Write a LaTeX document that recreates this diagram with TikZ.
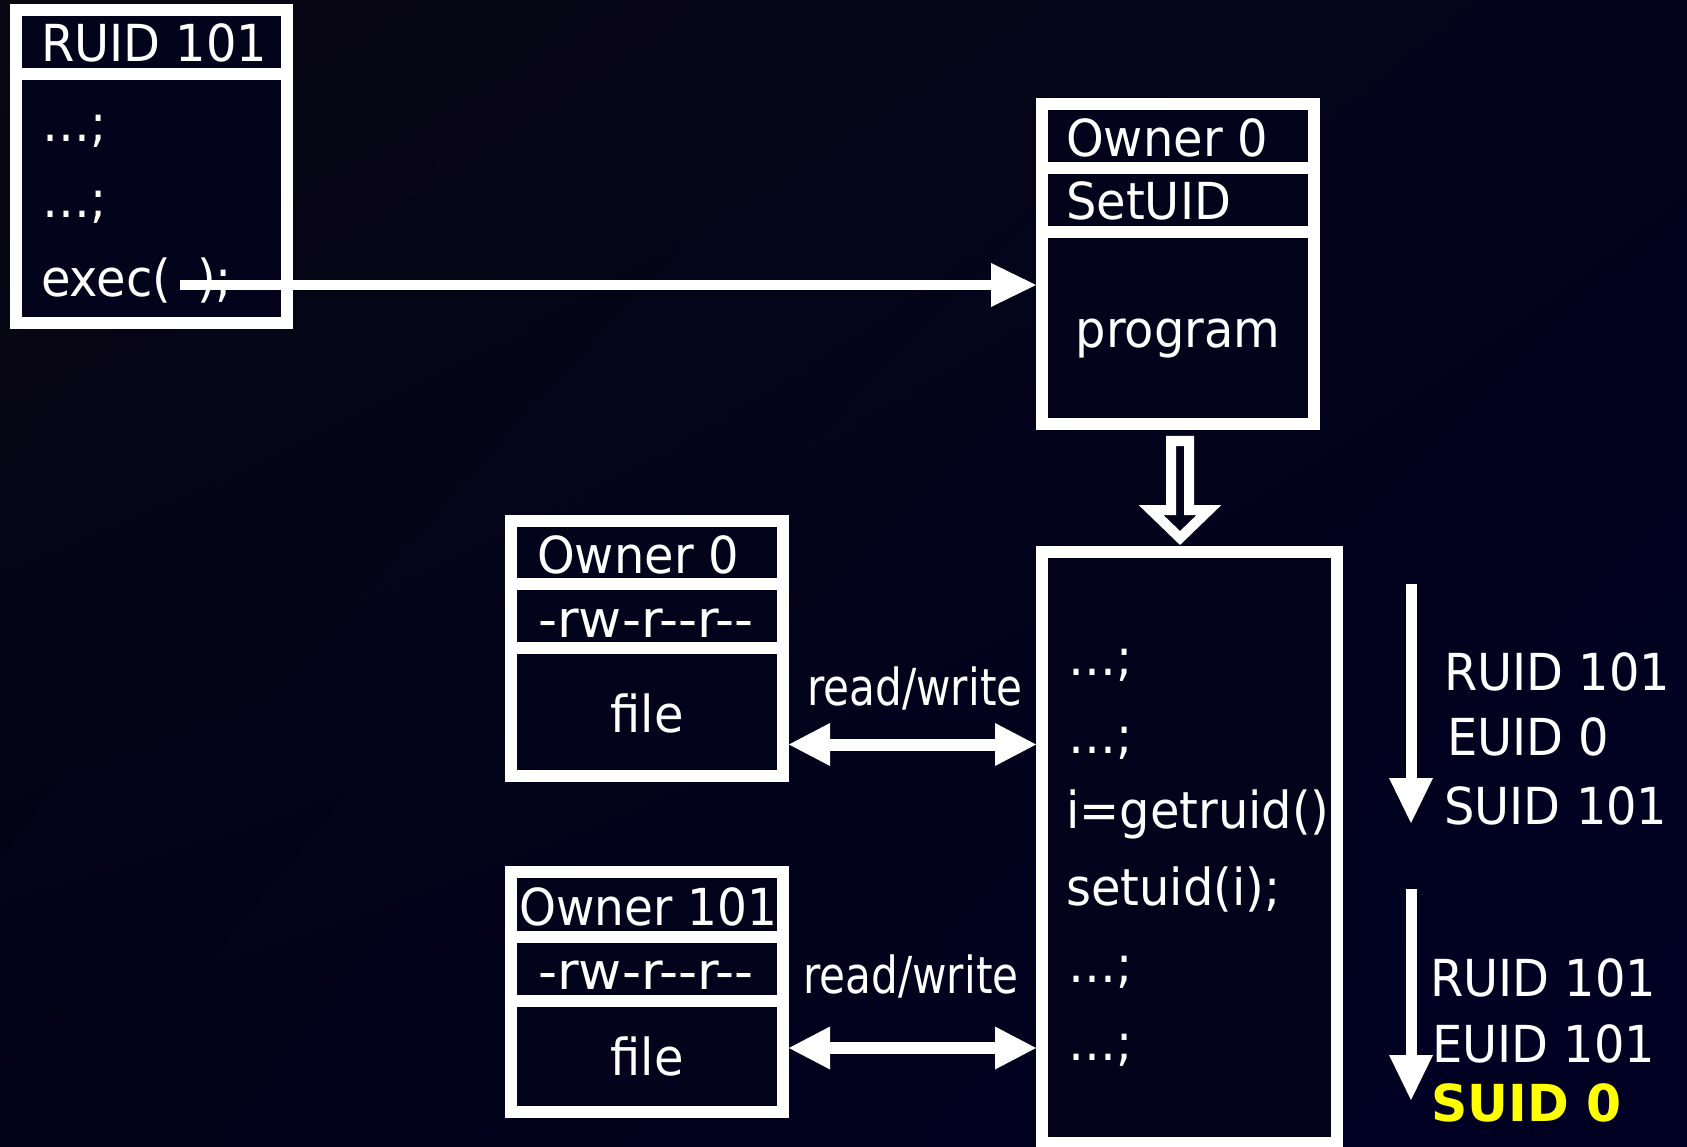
\documentclass[tikz,border=0pt]{standalone}
\usepackage{fontspec}
\setmainfont{DejaVu Sans}[FakeStretch=0.94]
\usetikzlibrary{arrows.meta,calc,shadings}
\definecolor{navy}{RGB}{3,3,28}
\definecolor{suidyellow}{RGB}{255,255,0}
\definecolor{bgul}{RGB}{9,7,18}
\definecolor{bgur}{RGB}{3,3,28}
\definecolor{bgll}{RGB}{2,2,24}
\definecolor{bglr}{RGB}{0,0,36}

\tikzset{
  box/.style={draw=white, line width=12pt, fill=navy, rectangle, inner sep=0pt},
  rule/.style={draw=white, line width=12pt},
  lbl/.style={text=white, inner sep=0pt, anchor=base west, font=\fontsize{51}{60}\selectfont},
  clbl/.style={lbl, anchor=base},
  flow/.style={draw=white, line width=10pt, -{Triangle[width=44pt,length=45pt,line width=0pt]}},
  down/.style={draw=white, line width=11pt, -{Triangle[width=44pt,length=45pt,line width=0pt]}},
  rw/.style={draw=white, line width=12pt,
    {Triangle[width=43pt,length=41pt,line width=0pt]}-{Triangle[width=43pt,length=41pt,line width=0pt]}},
  hollow/.style={draw=white, line width=10pt, fill=navy, line join=miter, miter limit=10},
}
\newcommand{\hy}{-\kern0pt}

\begin{document}
\begin{tikzpicture}[x=1pt,y=-1pt]
  % background
  \useasboundingbox (0,0) rectangle (1687,1147);
  \shade[upper left=bgul, upper right=bgur, lower left=bgll, lower right=bglr]
    (0,0) rectangle (1687,1147);

  % calling process
  \node[box, minimum width=271.5pt, minimum height=313pt] (caller) at (151.25,166.5) {};
  \coordinate (cdiv) at (0,74);
  \draw[rule] (caller.west |- cdiv) -- (caller.east |- cdiv);
  \node[lbl] (cruid) at (41,62) {RUID 101};
  \node[lbl] (cl1) at (42,142) {…;};
  \node[lbl] (cl2) at (42,218) {…;};
  \node[lbl] (cexec) at (41,297) {exec(\hspace{26pt});};

  % setuid program file
  \node[box, minimum width=272pt, minimum height=319.5pt] (prog) at (1178,264.25) {};
  \coordinate (pdiv1) at (0,168);
  \coordinate (pdiv2) at (0,232);
  \draw[rule] (prog.west |- pdiv1) -- (prog.east |- pdiv1);
  \draw[rule] (prog.west |- pdiv2) -- (prog.east |- pdiv2);
  \node[lbl] (powner) at (1066,157) {Owner 0};
  \node[lbl] (pset) at (1066,220) {SetUID};
  \node[clbl] (pname) at (1178,348) {program};

  % exec call
  \coordinate (execpt) at (180,285);
  \draw[flow] (execpt) -- (execpt -| prog.west);

  % file owned by root
  \node[box, minimum width=272pt, minimum height=255pt] (fileA) at (647,648) {};
  \coordinate (adiv1) at (0,584);
  \coordinate (adiv2) at (0,648);
  \draw[rule] (fileA.west |- adiv1) -- (fileA.east |- adiv1);
  \draw[rule] (fileA.west |- adiv2) -- (fileA.east |- adiv2);
  \node[lbl] (aowner) at (537,573) {Owner 0};
  \node[lbl] (aperm) at (538,637) {\scalebox{1.1}[1]{\hy rw\hy r\hy\hy r\hy\hy}};
  \node[clbl] (aname) at (647,732) {file};

  % file owned by user 101
  \node[box, minimum width=272pt, minimum height=240pt] (fileB) at (647,992) {};
  \coordinate (bdiv1) at (0,936.5);
  \coordinate (bdiv2) at (0,1000.5);
  \draw[rule] (fileB.west |- bdiv1) -- (fileB.east |- bdiv1);
  \draw[rule] (fileB.west |- bdiv2) -- (fileB.east |- bdiv2);
  \node[lbl] (bowner) at (519,925) {\scalebox{0.98}[1]{Owner 101}};
  \node[lbl] (bperm) at (538,989) {\scalebox{1.1}[1]{\hy rw\hy r\hy\hy r\hy\hy}};
  \node[clbl] (bname) at (647,1075) {file};

  % running process
  \node[box, minimum width=294.5pt, minimum height=591pt] (main) at (1189.25,847.5) {};
  \node[lbl] (m1) at (1068,675) {…;};
  \node[lbl] (m2) at (1068,753) {…;};
  \node[lbl] (m3) at (1066,828) {i=getruid()};
  \node[lbl] (m4) at (1066,905) {setuid(i);};
  \node[lbl] (m5) at (1068,982) {…;};
  \node[lbl] (m6) at (1068,1060) {…;};

  % program becomes the process
  \draw[hollow] ($(prog.south)+(-7,11)$) -- ++(0,69) -- ++(-20,0)
    -- ($(prog.south)+(2,108)$) -- ($(prog.south)+(31,80)$)
    -- ($(prog.south)+(11,80)$) -- ($(prog.south)+(11,11)$) -- cycle;

  % read/write access
  \coordinate (rwa) at (0,744.5);
  \coordinate (rwb) at (0,1048);
  \draw[rw] (rwa -| fileA.east) -- (rwa -| main.west);
  \draw[rw] (rwb -| fileB.east) -- (rwb -| main.west);
  \node[lbl] (rwla) at (807,705) {\scalebox{0.88}[1]{read/write}};
  \node[lbl] (rwlb) at (803,993) {\scalebox{0.88}[1]{read/write}};

  % user ids before and after setuid
  \coordinate (s1a) at (1411,584);
  \coordinate (s1b) at (1411,823);
  \coordinate (s2a) at (1411,889);
  \coordinate (s2b) at (1411,1100);
  \draw[down] (s1a) -- (s1b);
  \draw[down] (s2a) -- (s2b);
  \node[lbl] (u1) at (1444,690) {RUID 101};
  \node[lbl] (u2) at (1447,755) {EUID 0};
  \node[lbl] (u3) at (1444,824) {SUID 101};
  \node[lbl] (v1) at (1430,996) {RUID 101};
  \node[lbl] (v2) at (1432,1062) {EUID 101};
  \node[lbl, text=suidyellow, font=\fontsize{51}{60}\selectfont\bfseries] (v3) at (1431,1121) {\scalebox{1.05}[1]{SUID 0}};
\end{tikzpicture}
\end{document}
